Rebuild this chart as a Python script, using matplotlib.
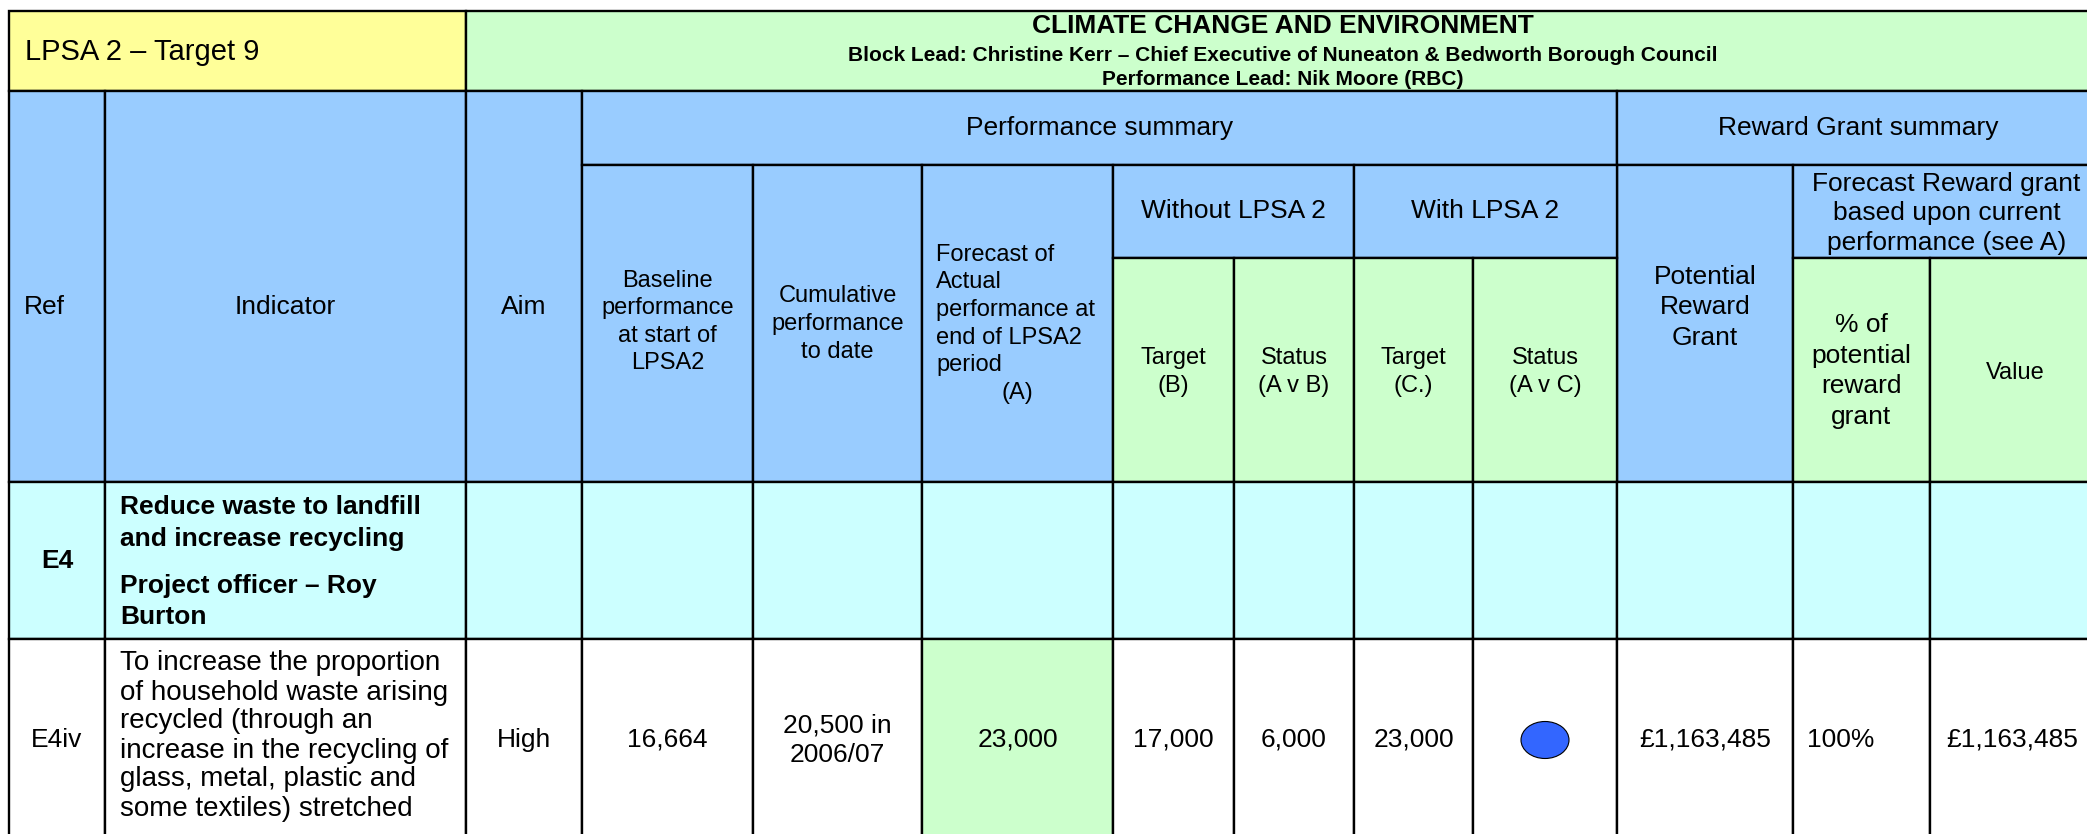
import matplotlib
matplotlib.use("Agg")
import matplotlib.pyplot as plt
from matplotlib.patches import Rectangle, Ellipse

plt.rcParams['font.family'] = ['Liberation Sans', 'DejaVu Sans']

YELLOW = '#ffff99'
GREEN = '#ccffcc'
BLUE = '#99ccff'
CYAN = '#ccffff'
DOT = '#3366ff'

# --- table content ---
block_title = "LPSA 2 – Target 9"
theme = "CLIMATE CHANGE AND ENVIRONMENT"
leads = ["Block Lead: Christine Kerr – Chief Executive of Nuneaton & Bedworth Borough Council",
         "Performance Lead: Nik Moore (RBC)"]
group_headers = ["Performance summary", "Reward Grant summary"]
sub_groups = ["Without LPSA 2", "With LPSA 2"]
forecast_group = ["Forecast Reward grant", "based upon current", "performance (see A)"]
col_headers = ["Ref", "Indicator", "Aim",
               ["Baseline", "performance", "at start of", "LPSA2"],
               ["Cumulative", "performance", "to date"],
               ["Forecast of", "Actual", "performance at", "end of LPSA2", "period"],
               ["Target", "(B)"], ["Status", "(A v B)"],
               ["Target", "(C.)"], ["Status", "(A v C)"],
               ["Potential", "Reward", "Grant"],
               ["% of", "potential", "reward", "grant"],
               "Value"]

section_ref = "E4"
section_title = ["Reduce waste to landfill", "and increase recycling"]
section_officer = ["Project officer – Roy", "Burton"]

indicator_ref = "E4iv"
indicator_text = ["To increase the proportion", "of household waste arising",
                  "recycled (through an", "increase in the recycling of",
                  "glass, metal, plastic and", "some textiles) stretched"]
aim = "High"
baseline = "16,664"
cumulative = ["20,500 in", "2006/07"]
forecast = "23,000"
target_b = "17,000"
status_b = "6,000"
target_c = "23,000"
status_c = "green"          # drawn as a status dot
potential_grant = "£1,163,485"
pct_grant = "100%"
value_grant = "£1,163,485"

# --- layout (pixel grid of the page) ---
col_x = [9, 105, 466, 582, 753, 922, 1113, 1234, 1354, 1473, 1617, 1793, 1930, 2100]
row_y = [11, 91, 165, 258, 482, 639, 860]

fig = plt.figure(figsize=(20.87, 8.34), dpi=100)
ax = fig.add_axes([0, 0, 1, 1])
ax.set_xlim(0, 2087)
ax.set_ylim(834, 0)
ax.axis('off')

LW = 1.7


def cell(c0, c1, r0, r1, color):
    x0, x1 = col_x[c0], col_x[c1]
    y0, y1 = row_y[r0], row_y[r1]
    ax.add_patch(Rectangle((x0, y0), x1 - x0, y1 - y0, facecolor=color,
                           edgecolor='black', linewidth=LW))


def put(lines, x, yc, size=19, gap=30, ha='center', weight='normal'):
    if isinstance(lines, str):
        lines = [lines]
    n = len(lines)
    for i, s in enumerate(lines):
        ax.text(x, yc + (i - (n - 1) / 2) * gap, s, ha=ha, va='center',
                fontsize=size, fontweight=weight, color='black')


def mid(c0, c1):
    return (col_x[c0] + col_x[c1]) / 2


# header row 1
cell(0, 2, 0, 1, YELLOW)
cell(2, 13, 0, 1, GREEN)
put(block_title, 25, 52, size=21, ha='left')
put(theme, mid(2, 13), 26, weight='bold')
put(leads[0], mid(2, 13), 55, size=15, weight='bold')
put(leads[1], mid(2, 13), 79, size=15, weight='bold')

# tall header cells
for c in (0, 1, 2):
    cell(c, c + 1, 1, 4, BLUE)
put(col_headers[0], 24, 307, ha='left')
put(col_headers[1], mid(1, 2), 307)
put(col_headers[2], mid(2, 3), 307)

cell(3, 10, 1, 2, BLUE)
cell(10, 13, 1, 2, BLUE)
put(group_headers[0], mid(3, 10), 128)
put(group_headers[1], mid(10, 13), 128)

for c in (3, 4, 5, 10):
    cell(c, c + 1, 2, 4, BLUE)
put(col_headers[3], mid(3, 4), 322, size=17, gap=27.5)
put(col_headers[4], mid(4, 5), 324, size=17, gap=27.5)
put(col_headers[5], 936, 310, size=17, gap=27.5, ha='left')
put("(A)", mid(5, 6), 393, size=17)
put(col_headers[10], mid(10, 11), 307, gap=30.5)

cell(6, 8, 2, 3, BLUE)
cell(8, 10, 2, 3, BLUE)
cell(11, 13, 2, 3, BLUE)
put(sub_groups[0], mid(6, 8), 211)
put(sub_groups[1], mid(8, 10), 211)
put(forecast_group, mid(11, 13), 213, gap=29.5)

for c in (6, 7, 8, 9, 11, 12):
    cell(c, c + 1, 3, 4, GREEN)
for c in (6, 7, 8, 9):
    put(col_headers[c], mid(c, c + 1), 372, size=17, gap=28.5)
put(col_headers[11], mid(11, 12), 371, gap=30.5)
put(col_headers[12], mid(12, 13), 373, size=17)

# section row
for c in range(13):
    cell(c, c + 1, 4, 5, CYAN)
put(section_ref, mid(0, 1), 561, weight='bold')
put(section_title, 120, 523, gap=32, ha='left', weight='bold')
put(section_officer, 120, 602, gap=31, ha='left', weight='bold')

# indicator row
for c in range(13):
    cell(c, c + 1, 5, 6, GREEN if c == 5 else 'white')
yr = 740
put(indicator_ref, mid(0, 1), yr)
put(indicator_text, 120, 736, size=20, gap=29, ha='left')
values = [aim, baseline, cumulative, forecast, target_b, status_b, target_c]
for i, v in enumerate(values):
    c = i + 2
    put(v, mid(c, c + 1), yr, gap=30)
if status_c == "green":
    ax.add_patch(Ellipse((mid(9, 10), 740), 48, 37, facecolor=DOT,
                         edgecolor='black', linewidth=0.8))
put(potential_grant, mid(10, 11), yr)
put(pct_grant, 1807, yr, ha='left')
put(value_grant, 1946, yr, ha='left')

fig.savefig('out.png', dpi=100)
